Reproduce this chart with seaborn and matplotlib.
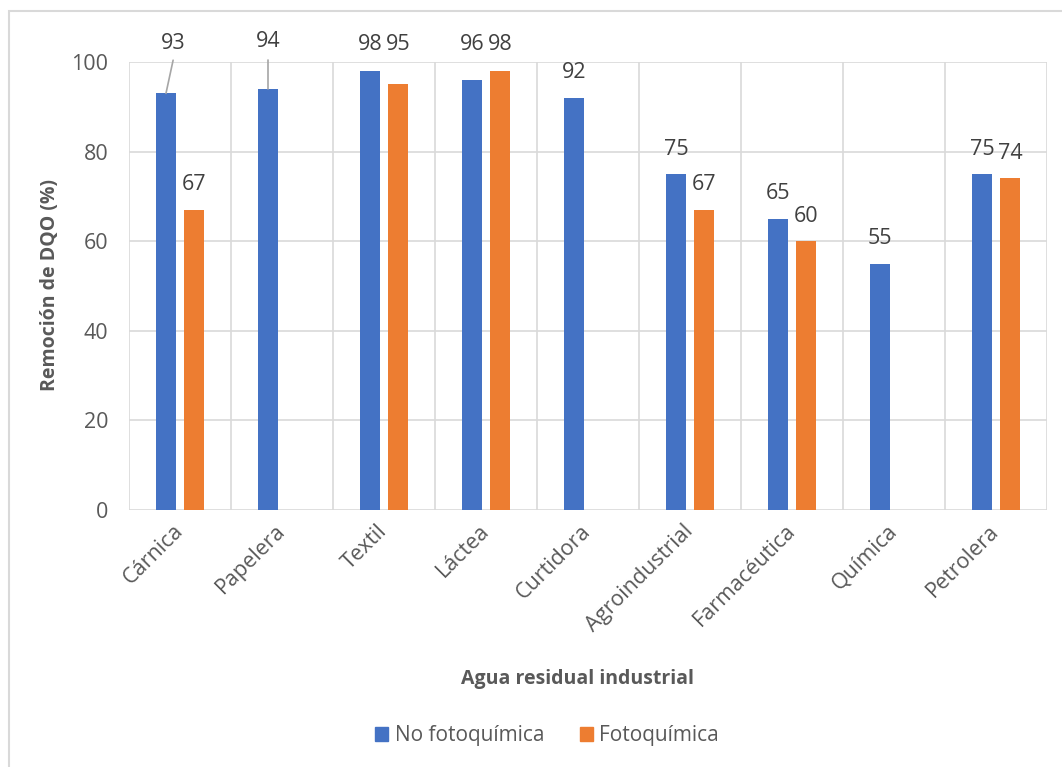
import numpy as np
import pandas as pd
import matplotlib
matplotlib.use("Agg")
import matplotlib.pyplot as plt
import matplotlib.patches as mpatches
import seaborn as sns

# ----------------------------------------------------------
# data
# ----------------------------------------------------------
categorias = ["Cárnica", "Papelera", "Textil", "Láctea", "Curtidora",
              "Agroindustrial", "Farmacéutica", "Química", "Petrolera"]
series = ["No fotoquímica", "Fotoquímica"]
no_fotoquimica = [93, 94, 98, 96, 92, 75, 65, 55, 75]
fotoquimica = [67, np.nan, 95, 98, np.nan, 67, 60, np.nan, 74]
yticks = [0, 20, 40, 60, 80, 100]

colores = ["#4472C4", "#ED7D31"]
gris_txt = "#595959"
gris_lab = "#404040"
gris_grid = "#D9D9D9"

# labels that Excel moved up above the plot (category, series) -> y level
label_alto = {("Cárnica", 0): 104.2, ("Papelera", 0): 104.5,
              ("Textil", 0): 103.8, ("Textil", 1): 103.8,
              ("Láctea", 0): 103.8, ("Láctea", 1): 103.8}
con_guia = {("Cárnica", 0): 0.07, ("Papelera", 0): 0.0}

df = pd.DataFrame({
    "Agua": categorias * 2,
    "Serie": [series[0]] * len(categorias) + [series[1]] * len(categorias),
    "Valor": no_fotoquimica + fotoquimica,
}).dropna()

# ----------------------------------------------------------
# main
# ----------------------------------------------------------
sns.set_style("white")
plt.rcParams["font.family"] = ["Open Sans", "DejaVu Sans"]

fig = plt.figure(figsize=(10.62, 7.67), dpi=100)
ax = fig.add_axes([129 / 1062, 1 - 510 / 767, 918 / 1062, 448 / 767])

sns.barplot(data=df, x="Agua", y="Valor", hue="Serie", order=categorias,
            hue_order=series, palette=colores, width=0.55, gap=0.29,
            saturation=1, linewidth=0, ax=ax, errorbar=None, legend=True)

ax.set_xlim(-0.5, len(categorias) - 0.5)
ax.set_ylim(0, 100)
ax.set_yticks(yticks)
ax.set_xticks(np.arange(-0.5, len(categorias), 1), minor=True)
ax.grid(True, which="major", axis="y", color=gris_grid, lw=1.2)
ax.grid(True, which="minor", axis="x", color=gris_grid, lw=1.2)
ax.grid(False, which="major", axis="x")
ax.set_axisbelow(True)
for s in ax.spines.values():
    s.set_visible(False)
ax.tick_params(which="both", length=0)
ax.tick_params(axis="y", pad=15, labelsize=15.5, labelcolor=gris_txt)
ax.tick_params(axis="x", pad=13, labelsize=15.5, labelcolor=gris_txt)
for t in ax.get_xticklabels():
    t.set_rotation(45)
    t.set_rotation_mode("anchor")
    t.set_ha("right")
    t.set_va("center")

# data labels
for si, cont in enumerate(ax.containers):
    for bar in cont:
        h = bar.get_height()
        if np.isnan(h) or h == 0:
            continue
        xc = bar.get_x() + bar.get_width() / 2
        cat = categorias[int(round(xc))]
        key = (cat, si)
        if key in label_alto:
            ytxt = label_alto[key]
            xtxt = xc + con_guia.get(key, 0.0)
            ax.text(xtxt, ytxt, f"{h:.0f}", ha="center", va="center",
                    fontsize=15.5, color=gris_lab, clip_on=False)
            if key in con_guia:
                ax.plot([xtxt, xc], [100.4, h], color="#A6A6A6", lw=1.2,
                        clip_on=False)
        else:
            ax.annotate(f"{h:.0f}", (xc, h), xytext=(0, 18),
                        textcoords="offset points", ha="center", va="center",
                        fontsize=15.5, color=gris_lab)

ax.set_xlabel("Agua residual industrial", fontsize=14, fontweight="bold",
              color=gris_txt)
ax.xaxis.set_label_coords(0.489, -0.355)
ax.set_ylabel("Remoción de DQO (%)", fontsize=14, fontweight="bold",
              color=gris_txt)
ax.yaxis.set_label_coords(-0.075, 0.502)

handles = [mpatches.Patch(color=c) for c in colores]
ax.legend(handles, series, loc="center", bbox_to_anchor=(0.515, 1 - 736 / 767),
          bbox_transform=fig.transFigure, ncol=2, frameon=False, fontsize=15,
          handlelength=0.65, handleheight=0.65, handletextpad=0.3,
          columnspacing=1.7, labelcolor=gris_txt)

# chart-area border (extends past the right and bottom of the image)
fig.patches.append(mpatches.Rectangle((9 / 1062, -0.1), 1.2, 1.1 - 11 / 767,
                                      transform=fig.transFigure, fill=False,
                                      edgecolor=gris_grid, lw=1.5))

fig.savefig("out.png", dpi=100)
